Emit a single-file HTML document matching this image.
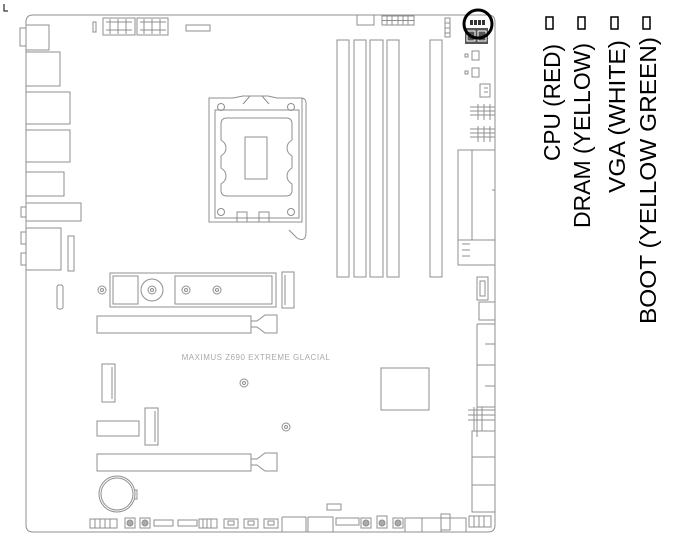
<!DOCTYPE html>
<html><head><meta charset="utf-8"><style>
html,body{margin:0;padding:0;background:#fff;width:682px;height:549px;overflow:hidden}
svg{display:block}
</style></head><body>
<svg width="682" height="549" viewBox="0 0 682 549" xmlns="http://www.w3.org/2000/svg">
<g fill="none" stroke="#8f8f8f" stroke-width="1">
<!-- board outline -->
<path d="M33 15 H488 Q495 15 495 22 V525 Q495 532 488 532 H33 Q26 532 26 525 V22 Q26 15 33 15 Z"/>
<!-- rear IO -->
<rect x="26" y="25" width="23" height="25"/><rect x="20" y="28" width="6" height="18"/>
<rect x="26" y="52" width="34" height="34"/>
<rect x="26" y="92" width="44" height="32"/>
<rect x="26" y="130" width="44" height="32"/>
<rect x="26" y="172" width="38" height="24"/>
<rect x="26" y="203" width="55" height="18"/><rect x="21" y="207" width="5" height="10"/>
<rect x="26" y="228" width="35" height="42"/><rect x="21" y="232" width="5" height="12"/><rect x="21" y="253" width="5" height="12"/>
<rect x="68" y="236" width="6" height="35"/>
<rect x="57" y="285" width="6" height="24" rx="2"/>
<!-- top connectors -->
<rect x="93" y="22" width="3" height="10"/>
<rect x="103" y="18" width="32" height="17"/><rect x="137" y="18" width="31" height="17"/>
<path d="M106 22h26M106 30h26M110 19v15M118 19v15M126 19v15M140 22h26M140 30h26M144 19v15M152 19v15M160 19v15"/>
<path d="M186 31 V25 H210 V31 Z"/>
<!-- CPU socket -->
<path d="M209 98 H233 L243 96 H268 L277 98 H302 V222 H209 Z"/>
<rect x="215" y="110" width="84" height="108"/>
<path d="M227 118 H286 Q292 118 292 124 V140 Q287 143 287 148 Q287 153 292 156 V168 Q287 171 287 176 Q287 181 292 184 V190 Q292 196 286 196 H227 Q221 196 221 190 V184 Q226 181 226 176 Q226 171 221 168 V156 Q226 153 226 148 Q226 143 221 140 V124 Q221 118 227 118 Z"/>
<rect x="245" y="137" width="22" height="42"/>
<circle cx="221" cy="107" r="3.5"/><circle cx="291" cy="107" r="3.5"/><circle cx="221" cy="212" r="3.5"/><circle cx="291" cy="212" r="3.5"/>
<path d="M237 222 v-10 h10 v10 M259 222 v-10 h10 v10 M243 104 L250 96 M269 104 L262 96"/>
<path d="M301 98 Q307 98 306 106 V232 Q306 243 297 238 L289 230"/>
<!-- DIMMs -->
<rect x="337" y="40" width="12" height="237"/><rect x="354" y="40" width="12" height="237"/>
<rect x="370" y="40" width="13" height="237"/><rect x="387" y="40" width="12" height="237"/>
<rect x="430" y="40" width="12" height="237"/>
<rect x="357" y="15" width="17" height="10"/><rect x="382" y="16" width="32" height="9"/>
<path d="M382 20.5h32M387 16v9M392 16v9M398 16v9M403 16v9M408 16v9"/>
<rect x="445" y="18" width="5" height="19"/><path d="M445 23h5M445 28h5M445 33h5"/>
<!-- right side -->
<rect x="472" y="51" width="7" height="9"/><rect x="465" y="54" width="3" height="3"/>
<rect x="472" y="68" width="7" height="9"/><rect x="465" y="71" width="3" height="3"/>
<path d="M480 84 h10 v13 h-10 z M484 88h4M484 92h4"/>
<path d="M470 107h25M470 111h25M470 115h25M478 104v16M484 104v16M490 104v16"/>
<path d="M470 129h25M470 133h25M470 137h25M478 126v16M484 126v16M490 126v16"/>
<rect x="458" y="150" width="37" height="90"/><path d="M472 150V240M492 190h3v10"/>
<rect x="458" y="240" width="37" height="25"/><path d="M462 244h8M462 250h8M462 256h8"/>
<rect x="477" y="277" width="11" height="23"/><rect x="480" y="281" width="5" height="15"/>
<rect x="479" y="302" width="16" height="18"/>
<path d="M477 324 H495 M477 324 V437 M477 365 H495 M485 344h10M485 386h10M477 407 H495"/>
<path d="M468 410h27M468 415h27M468 420h27M474 407v24M482 407v24"/>
<rect x="472" y="431" width="23" height="26"/><rect x="472" y="457" width="23" height="28"/><rect x="472" y="485" width="23" height="27"/>
<!-- M.2 area -->
<rect x="110" y="273" width="166" height="34"/>
<rect x="113" y="276" width="25" height="28"/>
<circle cx="152" cy="290" r="11"/><circle cx="152" cy="290" r="4"/><circle cx="152" cy="290" r="1.5"/>
<rect x="175" y="276" width="97" height="28"/>
<circle cx="186" cy="290" r="4"/><circle cx="186" cy="290" r="1.5"/>
<circle cx="217" cy="290" r="4"/><circle cx="217" cy="290" r="1.5"/>
<circle cx="102" cy="290" r="4"/><circle cx="102" cy="290" r="1.5"/>
<rect x="282" y="272" width="12" height="36"/><path d="M285 275v30"/>
<!-- PCIe 1 -->
<rect x="97" y="316" width="154" height="17"/>
<path d="M251 321 h6 l8 -6 h12 v18 h-12 l-8 -6 h-6"/>
<!-- lower -->
<rect x="102" y="364" width="13" height="38"/><path d="M112 367v32"/>
<circle cx="244" cy="383" r="4"/><circle cx="244" cy="383" r="1.5"/>
<rect x="381" y="368" width="48" height="42"/>
<rect x="145" y="408" width="13" height="37"/><path d="M155 411v31"/>
<rect x="97" y="421" width="42" height="15"/>
<circle cx="286" cy="427" r="4"/><circle cx="286" cy="427" r="1.5"/>
<rect x="97" y="454" width="154" height="17"/>
<path d="M251 459 h6 l8 -6 h12 v18 h-12 l-8 -6 h-6"/>
<circle cx="117" cy="494" r="18"/><circle cx="117" cy="494" r="16"/><path d="M134 490h3v9h-3"/>
<!-- bottom row -->
<rect x="90" y="519" width="27" height="9"/><path d="M95 519v9M100 519v9M105 519v9M110 519v9"/>
<rect x="125" y="518" width="10" height="10"/><circle cx="130" cy="523" r="3" fill="#aaa"/>
<rect x="140" y="518" width="10" height="10"/><circle cx="145" cy="523" r="3" fill="#aaa"/>
<rect x="154" y="520" width="19" height="6"/><rect x="178" y="520" width="19" height="6"/>
<rect x="199" y="519" width="18" height="9"/><path d="M203 519v9M207 519v9M211 519v9"/>
<rect x="224" y="519" width="14" height="9"/><rect x="228" y="521" width="6" height="4"/>
<rect x="244" y="519" width="14" height="9"/><rect x="248" y="521" width="6" height="4"/>
<rect x="264" y="519" width="14" height="9"/><rect x="268" y="521" width="6" height="4"/>
<path d="M282 517 H306 V532 M282 517 V532 M308 517 H333 V532 M308 517 V532"/>
<rect x="327" y="504" width="14" height="6"/>
<rect x="336" y="518" width="23" height="7"/>
<rect x="361" y="518" width="10" height="10"/><circle cx="366" cy="523" r="3" fill="#aaa"/>
<rect x="377" y="516" width="10" height="12"/><circle cx="382" cy="523" r="3" fill="#aaa"/>
<rect x="393" y="518" width="10" height="10"/><circle cx="398" cy="523" r="3" fill="#aaa"/>
<path d="M405 518 H422 V532 M405 518 V532 M422 518 H441 V532 M441 518 V532 M441 518 H466 V532"/>
<rect x="441" y="514" width="9" height="16"/>
<rect x="469" y="516" width="22" height="11"/><path d="M474 516v11M479 516v11M484 516v11"/>
</g>
<g fill="#555"><rect x="465" y="28" width="23" height="16"/></g>
<g fill="none" stroke="#fff" stroke-width="1"><rect x="467" y="31" width="8" height="10"/><rect x="478" y="31" width="8" height="10"/></g>
<g fill="#333"><rect x="470" y="20" width="3" height="5"/><rect x="474" y="20" width="3" height="5"/><rect x="478" y="20" width="3" height="5"/><rect x="482" y="20" width="3" height="5"/></g>
<circle cx="478" cy="24" r="14" fill="none" stroke="#000" stroke-width="3"/>
<text x="256" y="360" text-anchor="middle" font-family="Liberation Sans, sans-serif" font-size="8" fill="#aaa" letter-spacing="0.5">MAXIMUS Z690 EXTREME GLACIAL</text>
<path d="M4 4v7h4" fill="none" stroke="#000" stroke-width="1"/>
<!-- legend -->
<g fill="none" stroke="#000" stroke-width="1.5">
<rect x="546" y="17" width="7" height="12"/><rect x="578" y="17" width="7" height="12"/><rect x="611" y="17" width="7" height="12"/><rect x="643" y="17" width="7" height="12"/>
</g>
<g font-family="Liberation Sans, sans-serif" font-size="23" fill="#000">
<text transform="translate(560,161) rotate(-90)" textLength="117" lengthAdjust="spacingAndGlyphs">CPU (RED)</text>
<text transform="translate(590,228) rotate(-90)" textLength="185" lengthAdjust="spacingAndGlyphs">DRAM (YELLOW)</text>
<text transform="translate(625,193) rotate(-90)" textLength="153" lengthAdjust="spacingAndGlyphs">VGA (WHITE)</text>
<text transform="translate(656,324) rotate(-90)" textLength="287" lengthAdjust="spacingAndGlyphs">BOOT (YELLOW GREEN)</text>
</g>
</svg>
</body></html>
